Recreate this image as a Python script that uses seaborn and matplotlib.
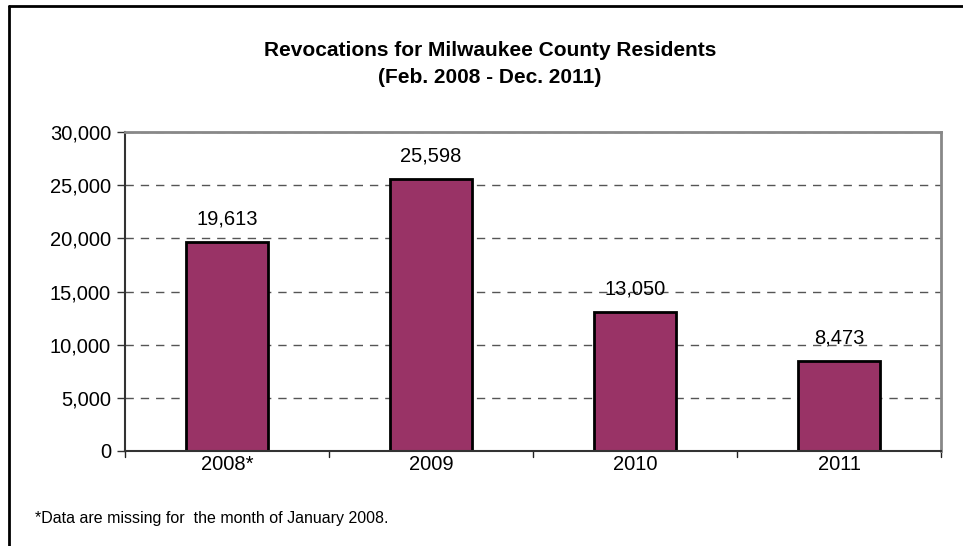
import matplotlib
matplotlib.use("Agg")
import matplotlib.pyplot as plt
import seaborn as sns
import pandas as pd
from matplotlib.lines import Line2D

# chart data
years = ["2008*", "2009", "2010", "2011"]
revocations = [19613, 25598, 13050, 8473]
yticks = [0, 5000, 10000, 15000, 20000, 25000, 30000]

df = pd.DataFrame({"year": years, "count": revocations})

sns.set_style("white")
plt.rcParams["font.family"] = ["Liberation Sans", "DejaVu Sans"]
plt.rcParams["text.color"] = "black"
plt.rcParams["xtick.color"] = "black"
plt.rcParams["ytick.color"] = "black"

fig = plt.figure(figsize=(9.63, 5.46), dpi=100)
ax = fig.add_axes([0.1298, 0.174, 0.8474, 0.5842])

# dashed gridlines behind bars
ax.set_axisbelow(True)
ax.yaxis.grid(True, linestyle=(0, (6, 5)), color="#555555", linewidth=1)

sns.barplot(x="year", y="count", data=df, color="#993366", edgecolor="black",
            linewidth=2, width=0.4, saturation=1, ax=ax)

for i, v in enumerate(revocations):
    ax.text(i, v + 1300, f"{v:,}", ha="center", va="bottom", fontsize=14.5, color="black")

ax.set_ylim(0, 30000)
ax.set_xlim(-0.5, 3.5)
ax.set_yticks(yticks)
ax.set_yticklabels([f"{t:,}" for t in yticks], fontsize=14.5)
ax.tick_params(axis="x", labelsize=14.5, length=0, pad=3, labelcolor="black")
ax.tick_params(axis="y", left=True, length=6, direction="out", color="#333333",
               width=1, pad=4, labelcolor="black")
ax.set_xlabel("")
ax.set_ylabel("")

# ticks between categories on the x axis
for b in [-0.5, 0.5, 1.5, 2.5, 3.5]:
    ax.plot([b, b], [0, -0.02], transform=ax.get_xaxis_transform(), color="#222222",
            linewidth=1, clip_on=False)

for side in ["top", "right"]:
    ax.spines[side].set_color("#888888")
    ax.spines[side].set_linewidth(2)
for side in ["left", "bottom"]:
    ax.spines[side].set_color("#333333")
    ax.spines[side].set_linewidth(1.5)

fig.text(0.509, 1 - 51 / 546, "Revocations for Milwaukee County Residents",
         ha="center", va="center", fontsize=15, fontweight="bold", color="black")
fig.text(0.509, 1 - 78 / 546, "(Feb. 2008 - Dec. 2011)",
         ha="center", va="center", fontsize=15, fontweight="bold", color="black")

fig.text(0.036, 1 - 518 / 546, "*Data are missing for  the month of January 2008.",
         ha="left", va="center", fontsize=11.5, color="black")

# outer frame (left and top edges visible)
fig.add_artist(Line2D([0.0098, 0.0098], [0, 0.989], transform=fig.transFigure,
                      color="black", linewidth=2))
fig.add_artist(Line2D([0.0098, 1.0], [0.989, 0.989], transform=fig.transFigure,
                      color="black", linewidth=2))

fig.savefig("out.png", dpi=100)
